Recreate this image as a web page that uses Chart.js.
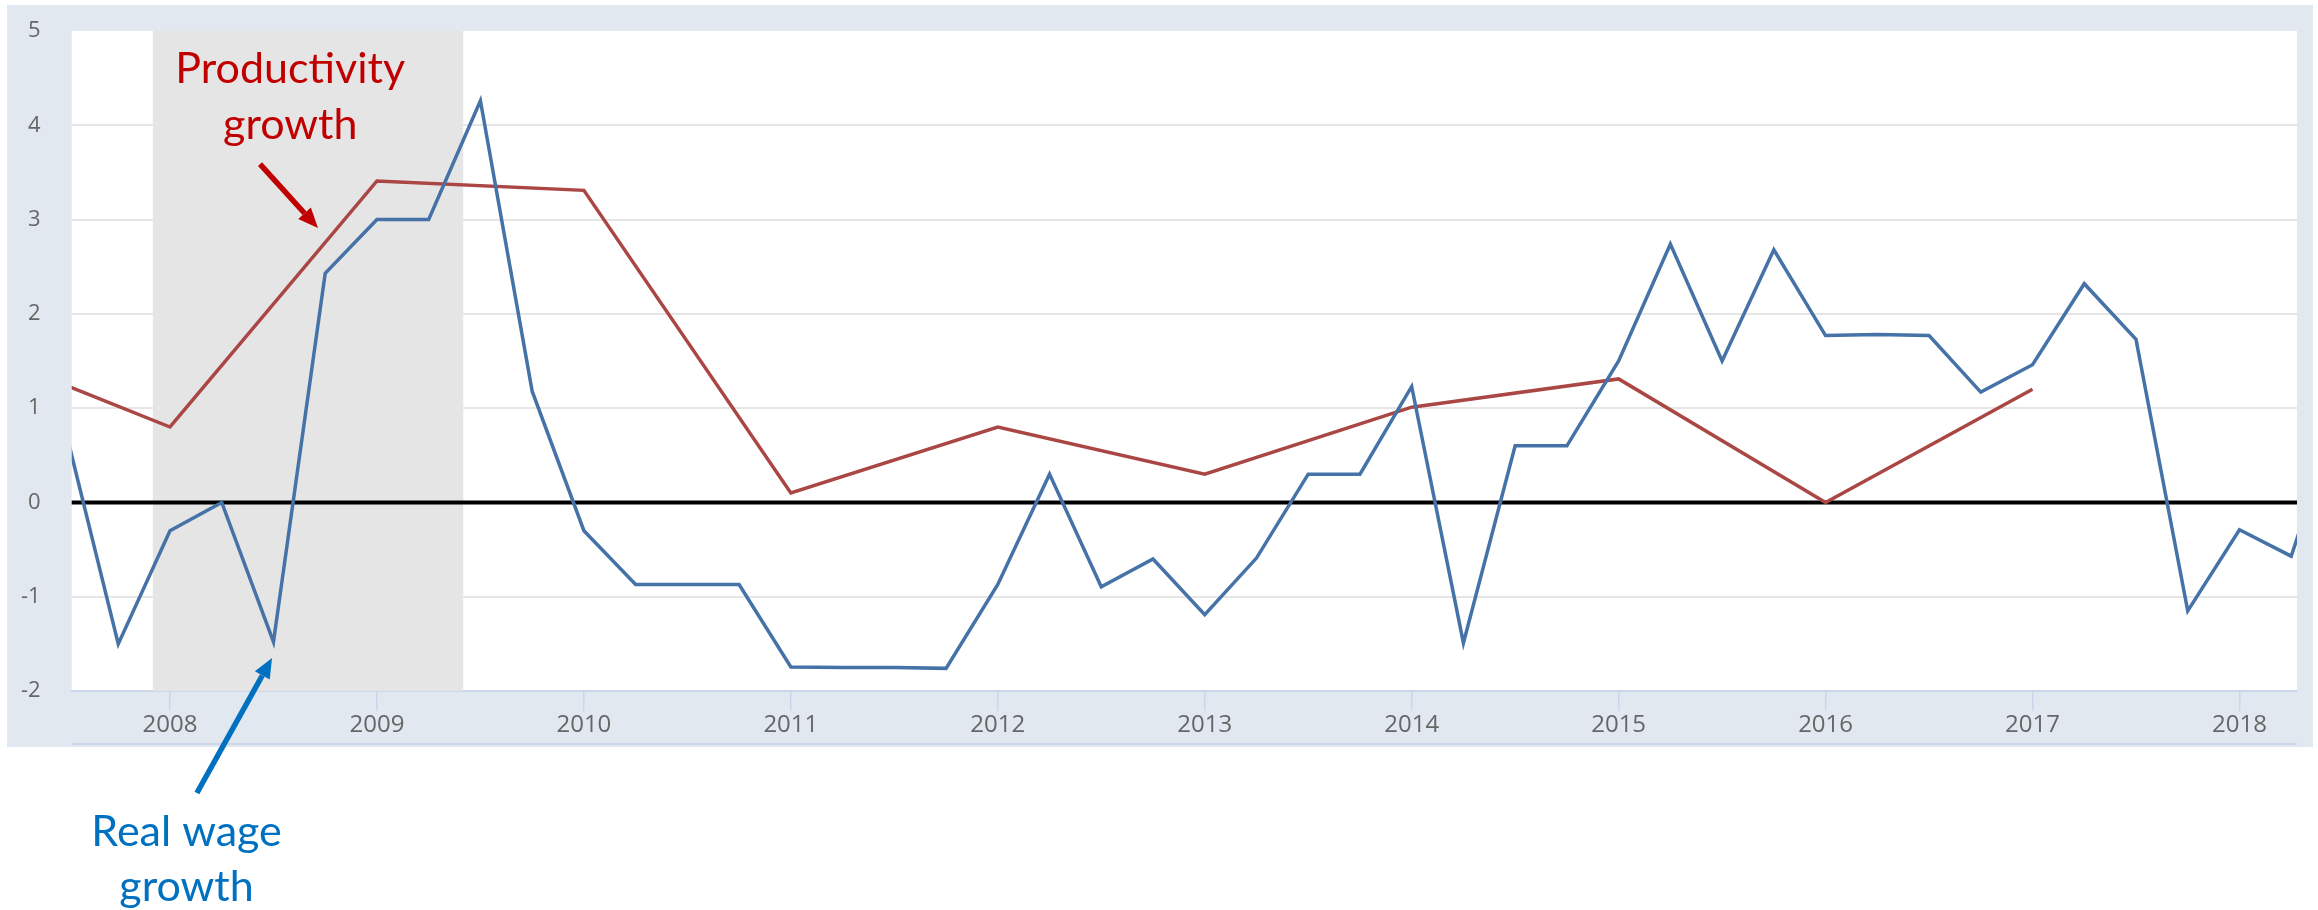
<!DOCTYPE html>
<html>
<head>
<meta charset="utf-8">
<title>Real wage growth vs productivity growth</title>
<script src="https://cdn.jsdelivr.net/npm/chart.js@4/dist/chart.umd.min.js"></script>
<style>
  html, body { margin: 0; padding: 0; background: #fff; }
  canvas { display: block; }
</style>
</head>
<body>
<canvas id="chart" width="2318" height="910"></canvas>
<script>
// quarterly real wage growth (blue)
const wageDates = [
  2007.5, 2007.75,
  2008, 2008.25, 2008.5, 2008.75,
  2009, 2009.25, 2009.5, 2009.75,
  2010, 2010.25, 2010.5, 2010.75,
  2011, 2011.25, 2011.5, 2011.75,
  2012, 2012.25, 2012.5, 2012.75,
  2013, 2013.25, 2013.5, 2013.75,
  2014, 2014.25, 2014.5, 2014.75,
  2015, 2015.25, 2015.5, 2015.75,
  2016, 2016.25, 2016.5, 2016.75,
  2017, 2017.25, 2017.5, 2017.75,
  2018, 2018.25, 2018.5
];
const wageValues = [
  0.72, -1.5,
  -0.3, 0.0, -1.48, 2.43,
  3.0, 3.0, 4.26, 1.18,
  -0.3, -0.87, -0.87, -0.87,
  -1.745, -1.75, -1.75, -1.76,
  -0.87, 0.3, -0.895, -0.6,
  -1.19, -0.59, 0.3, 0.3,
  1.23, -1.49, 0.6, 0.6,
  1.5, 2.74, 1.5, 2.68,
  1.77, 1.78, 1.77, 1.17,
  1.46, 2.32, 1.73, -1.15,
  -0.29, -0.57, 1.1
];

// annual productivity growth (red)
const productivityYears = [2007, 2008, 2009, 2010, 2011, 2012, 2013, 2014, 2015, 2016, 2017];
const productivityValues = [1.68, 0.8, 3.41, 3.31, 0.1, 0.8, 0.3, 1.01, 1.31, 0.0, 1.2];

const yearTicks = [2008, 2009, 2010, 2011, 2012, 2013, 2014, 2015, 2016, 2017, 2018];
const recession = [2007.917, 2009.417]; // Dec 2007 - Jun 2009

const frameColor = "#e1e8f0";
const axisColor = "#ccd6eb";

// arrows + labels, placed in data units so they follow the scales
const notes = [
  { color: "#c00000", lines: ["Productivity", "growth"], x: 2008.581, y: [4.448, 3.854],
    arrow: { from: [2008.435, 3.589], to: [2008.715, 2.91] } },
  { color: "#0070c0", lines: ["Real wage", "growth"], x: 2008.08, y: [-3.644, -4.231],
    arrow: { from: [2008.13, -3.082], to: [2008.493, -1.65] } }
];

const framePlugin = {
  id: "frame",
  beforeDraw(chart) {
    const { ctx, chartArea: a } = chart;
    ctx.save();
    ctx.fillStyle = "#fff";
    ctx.fillRect(0, 0, chart.width, chart.height);
    ctx.fillStyle = frameColor;
    ctx.fillRect(7, 5, 2306, 742);
    ctx.fillStyle = "#fff";
    ctx.fillRect(a.left, a.top, a.right - a.left, a.bottom - a.top);
    ctx.strokeStyle = axisColor;
    ctx.lineWidth = 2;
    ctx.beginPath();
    ctx.moveTo(a.left, 744);
    ctx.lineTo(a.right, 744);
    ctx.stroke();
    ctx.restore();
  },
  beforeDatasetsDraw(chart) {
    const { ctx, chartArea: a, scales: { x, y } } = chart;
    ctx.save();
    ctx.fillStyle = "#e5e5e5";
    const x0 = x.getPixelForValue(recession[0]);
    const x1 = x.getPixelForValue(recession[1]);
    ctx.fillRect(x0, a.top, x1 - x0, a.bottom - a.top);
    // zero line
    const y0 = y.getPixelForValue(0);
    ctx.strokeStyle = "#000";
    ctx.lineWidth = 4;
    ctx.beginPath();
    ctx.moveTo(a.left, y0);
    ctx.lineTo(a.right, y0);
    ctx.stroke();
    ctx.restore();
  },
  afterDraw(chart) {
    const { ctx, scales: { x, y } } = chart;
    ctx.save();
    notes.forEach((n) => {
      ctx.fillStyle = n.color;
      ctx.strokeStyle = n.color;
      ctx.font = "43px Lato";
      ctx.textAlign = "center";
      ctx.textBaseline = "alphabetic";
      n.lines.forEach((t, i) => {
        ctx.fillText(t, x.getPixelForValue(n.x), y.getPixelForValue(n.y[i]));
      });
      const fx = x.getPixelForValue(n.arrow.from[0]);
      const fy = y.getPixelForValue(n.arrow.from[1]);
      const tx = x.getPixelForValue(n.arrow.to[0]);
      const ty = y.getPixelForValue(n.arrow.to[1]);
      const ang = Math.atan2(ty - fy, tx - fx);
      const head = 20;
      const bx = tx - Math.cos(ang) * head;
      const by = ty - Math.sin(ang) * head;
      ctx.lineWidth = 5.5;
      ctx.beginPath();
      ctx.moveTo(fx, fy);
      ctx.lineTo(bx, by);
      ctx.stroke();
      ctx.beginPath();
      ctx.moveTo(tx, ty);
      ctx.lineTo(bx + Math.sin(ang) * 8.5, by - Math.cos(ang) * 8.5);
      ctx.lineTo(bx - Math.sin(ang) * 8.5, by + Math.cos(ang) * 8.5);
      ctx.closePath();
      ctx.fill();
    });
    ctx.restore();
  }
};

new Chart(document.getElementById("chart"), {
  type: "line",
  data: {
    datasets: [
      {
        label: "Real wage growth",
        data: wageDates.map((d, i) => ({ x: d, y: wageValues[i] })),
        borderColor: "#4572a7",
        borderWidth: 3.5,
        pointRadius: 0,
        tension: 0,
        clip: 0
      },
      {
        label: "Productivity growth",
        data: productivityYears.map((d, i) => ({ x: d, y: productivityValues[i] })),
        borderColor: "#aa4643",
        borderWidth: 3.5,
        pointRadius: 0,
        tension: 0,
        clip: 0
      }
    ]
  },
  options: {
    responsive: false,
    animation: false,
    devicePixelRatio: 1,
    layout: { padding: { left: 7, top: 31, right: 21, bottom: 163 } },
    plugins: {
      legend: { display: false },
      tooltip: { enabled: false }
    },
    scales: {
      x: {
        type: "linear",
        min: 2007.525,
        max: 2018.278,
        afterBuildTicks: (axis) => {
          axis.ticks = yearTicks.map((v) => ({ value: v }));
        },
        afterFit: (scale) => {
          scale.height = 56;
          scale.paddingLeft = 0;
          scale.paddingRight = 0;
        },
        ticks: {
          callback: (v) => String(v),
          color: "#666",
          font: { family: "'Open Sans'", size: 24 },
          padding: 0,
          maxRotation: 0
        },
        grid: {
          drawOnChartArea: false,
          drawTicks: true,
          tickLength: 20,
          color: axisColor,
          lineWidth: 1.5
        },
        border: { display: true, color: axisColor, width: 2 }
      },
      y: {
        min: -2,
        max: 5,
        afterFit: (scale) => {
          scale.width = 64.7;
          scale.paddingTop = 0;
          scale.paddingBottom = 0;
        },
        ticks: {
          stepSize: 1,
          color: "#666",
          font: { family: "'Open Sans'", size: 22 },
          padding: 31
        },
        grid: {
          drawTicks: false,
          lineWidth: 2,
          color: (c) => (c.tick && (c.tick.value === 0 || c.tick.value === 5) ? "rgba(0,0,0,0)" : "#e6e6e6")
        },
        border: { display: false }
      }
    }
  },
  plugins: [framePlugin]
});
</script>
</body>
</html>
